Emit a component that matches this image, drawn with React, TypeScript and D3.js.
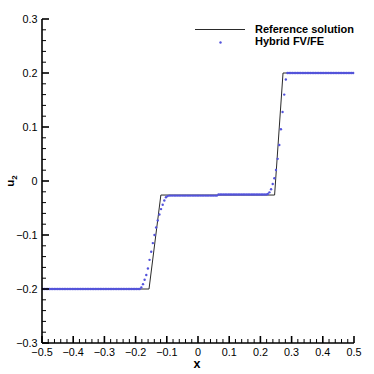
import React from "react";
import * as d3 from "d3";

// ---- data ----
const xDomain: [number, number] = [-0.5, 0.5];
const yDomain: [number, number] = [-0.3, 0.3];
const xTicks = [-0.5, -0.4, -0.3, -0.2, -0.1, 0, 0.1, 0.2, 0.3, 0.4, 0.5];
const yTicks = [-0.3, -0.2, -0.1, 0, 0.1, 0.2, 0.3];

// Reference solution (piecewise linear)
const refX = [-0.5, -0.157, -0.119, 0.2455, 0.2725, 0.5];
const refY = [-0.2, -0.2, -0.026, -0.026, 0.2, 0.2];

// Hybrid FV/FE: 190 cell-centred values
const hybridCells = 190;
const hybridY = [
  -0.2, -0.2, -0.2, -0.2, -0.2, -0.2, -0.2, -0.2, -0.2, -0.2,
  -0.2, -0.2, -0.2, -0.2, -0.2, -0.2, -0.2, -0.2, -0.2, -0.2,
  -0.2, -0.2, -0.2, -0.2, -0.2, -0.2, -0.2, -0.2, -0.2, -0.2,
  -0.2, -0.2, -0.2, -0.2, -0.2, -0.2, -0.2, -0.2, -0.2, -0.2,
  -0.2, -0.2, -0.2, -0.2, -0.2, -0.2, -0.2, -0.2, -0.2, -0.2,
  -0.2, -0.2, -0.2, -0.2, -0.2, -0.2, -0.2, -0.2, -0.2, -0.2,
  -0.197, -0.191, -0.183, -0.174, -0.162, -0.146, -0.131, -0.115, -0.1, -0.086,
  -0.073, -0.062, -0.052, -0.044, -0.036, -0.03, -0.028,
  -0.027, -0.027, -0.027, -0.027, -0.027, -0.027, -0.027, -0.027, -0.027, -0.027,
  -0.027, -0.027, -0.027, -0.027, -0.027, -0.027, -0.027, -0.027, -0.027, -0.027,
  -0.027, -0.027, -0.027, -0.027, -0.027, -0.027, -0.027, -0.027, -0.027, -0.027,
  -0.025, -0.025, -0.025, -0.025, -0.025, -0.025, -0.025, -0.025, -0.025, -0.025,
  -0.025, -0.025, -0.025, -0.025, -0.025, -0.025, -0.025, -0.025, -0.025, -0.025,
  -0.025, -0.025, -0.025, -0.025, -0.025, -0.025, -0.025, -0.025, -0.025, -0.025,
  -0.024, -0.021, -0.0154, -0.0056, 0.005, 0.0204, 0.041, 0.0667, 0.0957, 0.1278,
  0.16, 0.188,
  0.2, 0.2, 0.2, 0.2, 0.2, 0.2, 0.2, 0.2, 0.2, 0.2,
  0.2, 0.2, 0.2, 0.2, 0.2, 0.2, 0.2, 0.2, 0.2, 0.2,
  0.2, 0.2, 0.2, 0.2, 0.2, 0.2, 0.2, 0.2, 0.2, 0.2,
  0.2, 0.2, 0.2, 0.2, 0.2, 0.2, 0.2, 0.2, 0.2, 0.2,
  0.2,
];
const legendLabels = ["Reference solution", "Hybrid FV/FE"];

const W = 374;
const H = 374;
const FONT = "'Liberation Sans', Arial, Helvetica, sans-serif";
const BLUE = "#5353db";

export default function App() {
  const x = d3.scaleLinear().domain(xDomain).range([42, 354]);
  const y = d3.scaleLinear().domain(yDomain).range([343, 19]);

  const cellX = d3.range(hybridCells).map((i) => xDomain[0] + ((i + 0.5) * (xDomain[1] - xDomain[0])) / hybridCells);

  const line = d3
    .line<number>()
    .x((_, i) => x(refX[i]))
    .y((d) => y(d));

  const fmt = (v: number) => (Math.abs(v) < 1e-9 ? "0" : d3.format("")(+v.toFixed(1)));

  const xMinor: number[] = [];
  for (let i = 0; i < xTicks.length - 1; i++) {
    const a = xTicks[i], b = xTicks[i + 1];
    for (let k = 1; k < 5; k++) xMinor.push(a + ((b - a) * k) / 5);
  }
  const yMinor: number[] = [];
  for (let i = 0; i < yTicks.length - 1; i++) {
    const a = yTicks[i], b = yTicks[i + 1];
    for (let k = 1; k < 5; k++) yMinor.push(a + ((b - a) * k) / 5);
  }

  const x0 = x(xDomain[0]);
  const y0 = y(yDomain[0]);

  return (
    <svg
      width={W}
      height={H}
      style={{ position: "absolute", left: 0, top: 0, background: "#fff" }}
      fontFamily={FONT}
    >
      <rect width={W} height={H} fill="#fff" />
      {/* reference line */}
      <path d={line(refY) || ""} fill="none" stroke="#2a2a2a" strokeWidth={1} />
      {/* hybrid points */}
      {hybridY.map((v, i) => (
        <circle key={i} cx={x(cellX[i])} cy={y(v)} r={1.2} fill={BLUE} />
      ))}

      {/* axes */}
      <line x1={x0} y1={y(yDomain[1])} x2={x0} y2={y0} stroke="#000" strokeWidth={1.6} />
      <line x1={x0} y1={y0} x2={x(xDomain[1])} y2={y0} stroke="#000" strokeWidth={1.6} />
      {yTicks.map((t) => (
        <line key={"ym" + t} x1={x0} x2={x0 + 7} y1={y(t)} y2={y(t)} stroke="#000" strokeWidth={1.6} />
      ))}
      {yMinor.map((t, i) => (
        <line key={"yn" + i} x1={x0} x2={x0 + 4} y1={y(t)} y2={y(t)} stroke="#000" strokeWidth={1} />
      ))}
      {xTicks.map((t) => (
        <line key={"xm" + t} x1={x(t)} x2={x(t)} y1={y0} y2={y0 - 7} stroke="#000" strokeWidth={1.6} />
      ))}
      {xMinor.map((t, i) => (
        <line key={"xn" + i} x1={x(t)} x2={x(t)} y1={y0} y2={y0 - 4} stroke="#000" strokeWidth={1} />
      ))}
      {yTicks.map((t) => (
        <text key={"yl" + t} x={37.5} y={y(t) + 4} textAnchor="end" fontSize={10.8} fill="#000">
          {fmt(t)}
        </text>
      ))}
      {xTicks.map((t) => (
        <text key={"xl" + t} x={x(t)} y={355.5} textAnchor="middle" fontSize={10.8} fill="#000">
          {fmt(t)}
        </text>
      ))}

      {/* axis titles */}
      <text x={197} y={368} textAnchor="middle" fontSize={12.5} fontWeight="bold" fill="#000">
        x
      </text>
      <text transform={`translate(14,${y(0)}) rotate(-90)`} textAnchor="middle" fontSize={11.5} fontWeight="bold" fill="#000">
        u<tspan fontSize={8} dy={3}>2</tspan>
      </text>

      {/* legend */}
      <line x1={195} x2={245} y1={29.5} y2={29.5} stroke="#2a2a2a" strokeWidth={1} />
      <text x={255} y={33.2} fontSize={11} fontWeight="bold" fill="#000">
        {legendLabels[0]}
      </text>
      <circle cx={220.5} cy={42.5} r={1.2} fill={BLUE} />
      <text x={255} y={45} fontSize={11} fontWeight="bold" fill="#000">
        {legendLabels[1]}
      </text>
    </svg>
  );
}
